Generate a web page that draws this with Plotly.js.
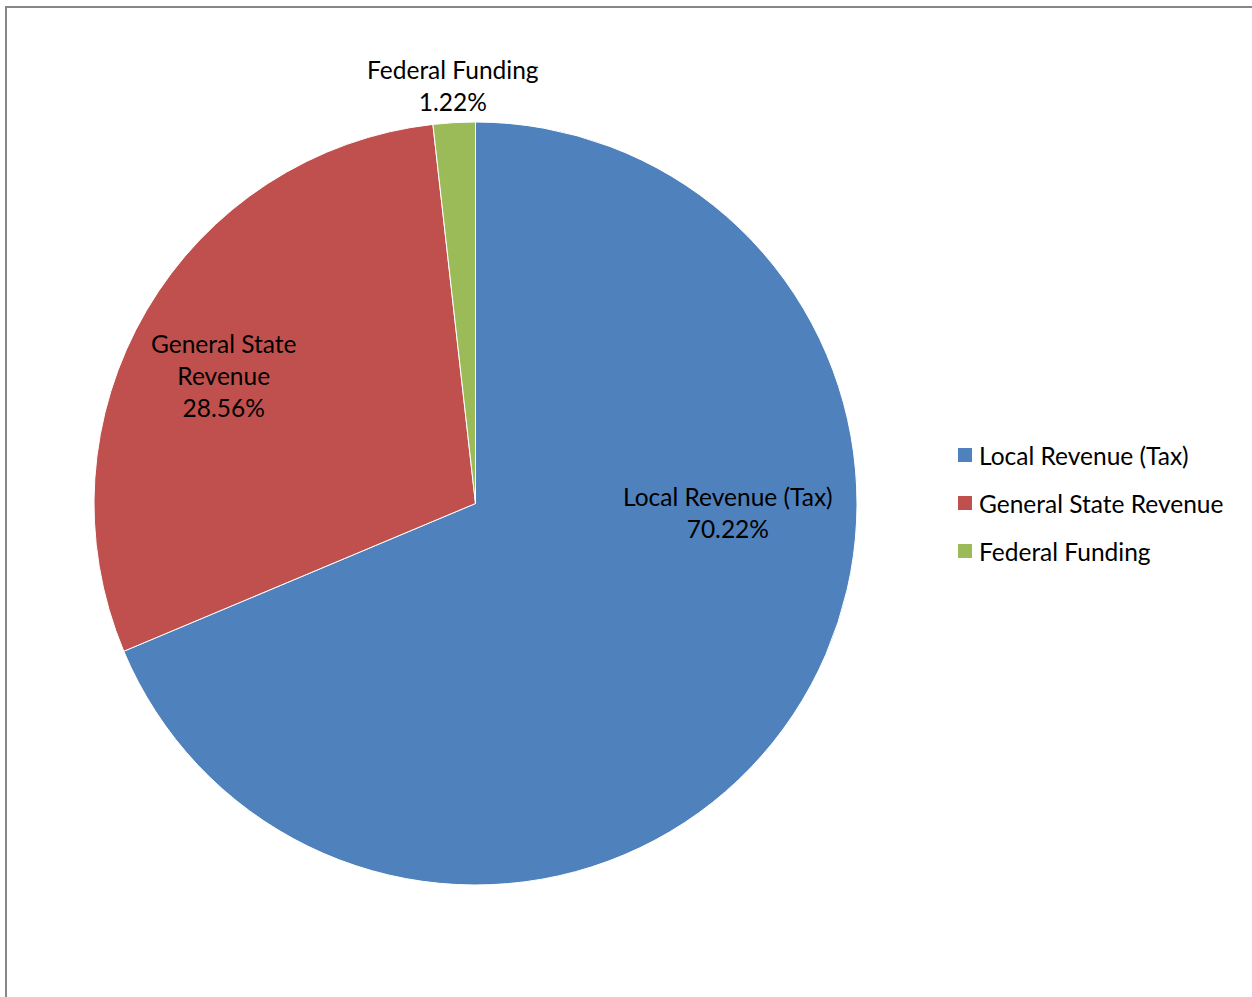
<!DOCTYPE html>
<html>
<head>
<meta charset="utf-8">
<script src="https://cdn.plot.ly/plotly-3.0.1.min.js"></script>
<style>
  html, body { margin: 0; padding: 0; background: #ffffff; }
  #frame { position: absolute; left: 5px; top: 6px; width: 1300px; height: 1100px;
           border-left: 2px solid #878787; border-top: 2px solid #878787; box-sizing: border-box; }
  #chart { position: absolute; left: 0; top: 0; width: 1252px; height: 997px; }
</style>
</head>
<body>
<div id="frame"></div>
<div id="chart"></div>
<script>
// Data
const categories = ["Local Revenue (Tax)", "General State Revenue", "Federal Funding"];
const sliceText = ["Local Revenue (Tax)", "General State<br>Revenue", "Federal Funding"];
const percentLabels = ["70.22%", "28.56%", "1.22%"];   // printed data labels
const values = [68.67, 29.55, 1.78];                    // slice sizes as drawn
const colors = ["#4F81BD", "#C0504D", "#9BBB59"];

const FONT = "Lato, 'Open Sans', sans-serif";
const FS = 24.5;
const W = 1252, H = 997;

// label anchor positions (pixels) and legend layout
const labelPos = [[728, 512.5], [223, 376], [453, 86]];
const legendX = 958, legendY0 = 455, legendStep = 48, swatch = 14;

const trace = {
  type: "pie",
  labels: categories,
  values: values,
  textinfo: "none",
  marker: { colors: colors, line: { color: "#ffffff", width: 1 } },
  sort: false,
  direction: "clockwise",
  rotation: 0,
  hoverinfo: "label+percent",
  showlegend: false,
  domain: { x: [94 / W, 857 / W], y: [1 - 885 / H, 1 - 122 / H] }
};

const annotations = [];
const shapes = [];
categories.forEach((c, i) => {
  annotations.push({
    xref: "paper", yref: "paper",
    x: labelPos[i][0] / W, y: 1 - labelPos[i][1] / H,
    xanchor: "center", yanchor: "middle", align: "center",
    showarrow: false,
    text: sliceText[i] + "<br>" + percentLabels[i],
    font: { family: FONT, size: FS, color: "#000000" }
  });
  const cy = legendY0 + i * legendStep;
  shapes.push({
    type: "rect", xref: "paper", yref: "paper",
    x0: legendX / W, x1: (legendX + swatch) / W,
    y0: 1 - (cy - swatch / 2) / H, y1: 1 - (cy + swatch / 2) / H,
    fillcolor: colors[i], line: { width: 0 }
  });
  annotations.push({
    xref: "paper", yref: "paper",
    x: (legendX + swatch + 5) / W, y: 1 - cy / H,
    xanchor: "left", yanchor: "middle", align: "left",
    showarrow: false,
    text: c,
    font: { family: FONT, size: FS, color: "#000000" }
  });
});

const layout = {
  width: W,
  height: H,
  margin: { l: 0, r: 0, t: 0, b: 0 },
  paper_bgcolor: "rgba(0,0,0,0)",
  plot_bgcolor: "rgba(0,0,0,0)",
  showlegend: false,
  annotations: annotations,
  shapes: shapes,
  font: { family: FONT }
};

Plotly.newPlot("chart", [trace], layout, { displayModeBar: false, staticPlot: true });
</script>
</body>
</html>
